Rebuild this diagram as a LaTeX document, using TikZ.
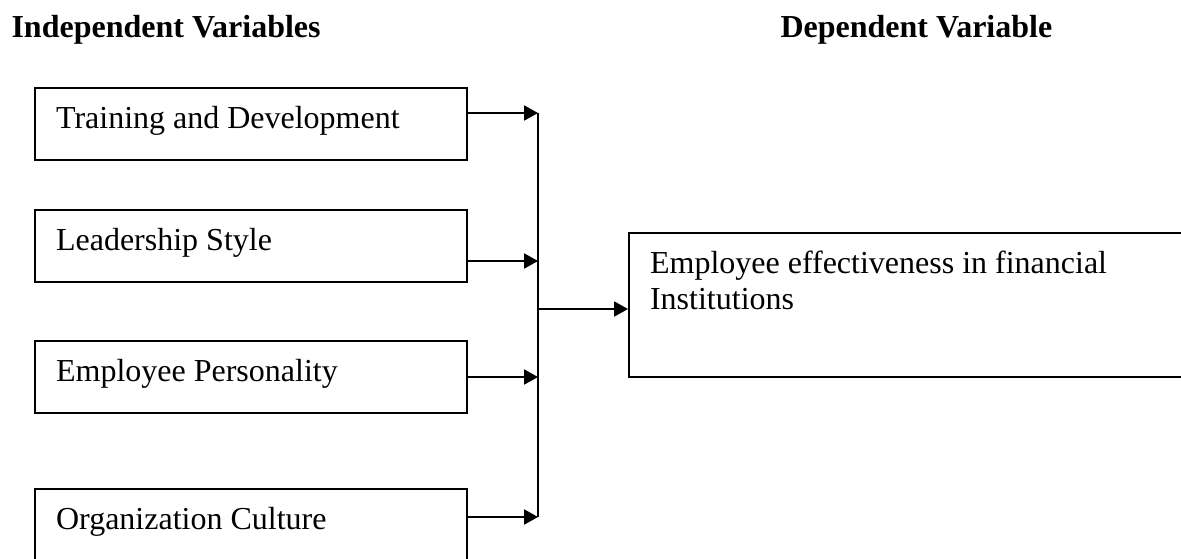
\documentclass[tikz,border=0pt]{standalone}
\usepackage{fontspec}
\setmainfont{Liberation Serif}
\usetikzlibrary{arrows.meta}

\tikzset{
  varbox/.style={draw, line width=0.75pt, anchor=north west, inner xsep=7.9pt, inner ysep=0pt,
    text width=146.25pt, text height=15pt, text depth=12pt, align=flush left,
    font=\fontsize{12}{13.8}\selectfont},
  outbox/.style={varbox, text width=194.25pt, text depth=39pt},
  heading/.style={anchor=base west, inner sep=0pt, font=\fontsize{12}{13.8}\selectfont\bfseries},
  link/.style={line width=0.75pt, -{Triangle[length=5.2pt, width=5.6pt]}}
}

\begin{document}
\begin{tikzpicture}[x=0.375pt, y=-0.375pt]
\useasboundingbox (0,0) rectangle (1181,558);
\clip (0,0) rectangle (1181,558);
% headings
\node[heading] (indep) at (11,37) {Independent Variables};
\node[heading] (dep) at (780,37) {Dependent Variable};
% independent variables
\node[varbox] (t1) at (34,87) {Training and Development};
\node[varbox] (t2) at (34,209) {Leadership Style};
\node[varbox] (t3) at (34,340) {Employee Personality};
\node[varbox] (t4) at (34,488) {Organization Culture};
% dependent variable
\node[outbox] (out) at (628,232) {Employee effectiveness in financial\\Institutions};
% junctions
\coordinate (j1) at (538,113);
\coordinate (j2) at (538,261);
\coordinate (j3) at (538,377);
\coordinate (j4) at (538,517);
\coordinate (jm) at (538,309);
\foreach \i in {1,...,4}
  \draw[link] (t\i.east |- j\i) -- (j\i);
\draw[line width=0.75pt] (j1) -- (j4);
\draw[link] (jm) -- (out.west |- jm);
\end{tikzpicture}
\end{document}
